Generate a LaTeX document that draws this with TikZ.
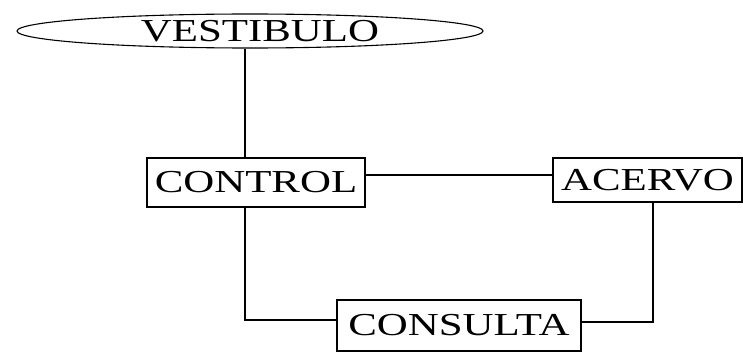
\documentclass[tikz,border=0pt]{standalone}
\usepackage{graphicx}
\usepackage{fontspec}
\setmainfont{Liberation Serif}
\usetikzlibrary{shapes.geometric}
\newcommand{\widetxt}[1]{\scalebox{1.34}[1]{#1}}
\begin{document}
\begin{tikzpicture}[x=1pt,y=-1pt, line width=1.1pt,
  box/.style={draw, rectangle, inner sep=0pt, font=\fontsize{32}{34}\selectfont},
  oval/.style={draw, ellipse, inner sep=0pt, font=\fontsize{32}{34}\selectfont}]
\useasboundingbox (0,0) rectangle (743,353);
\node[oval, minimum width=466pt, minimum height=34pt] (vest) at (250,31) {\hspace{20pt}\widetxt{VESTIBULO}};
\node[box, minimum width=218pt, minimum height=49pt] (ctl) at (256,182.5) {\widetxt{CONTROL}};
\node[box, minimum width=189pt, minimum height=44pt] (acv) at (647.5,180) {\widetxt{ACERVO}};
\node[box, minimum width=244pt, minimum height=51pt] (cons) at (459,325.5) {\widetxt{CONSULTA}};
\draw ([xshift=-5pt]vest.south) -- ([xshift=-5pt]vest.south |- ctl.north);
\draw ([yshift=7.5pt]ctl.east) -- ([yshift=7.5pt]ctl.east -| acv.west);
\draw ([xshift=-11pt]ctl.south) |- ([yshift=5.5pt]cons.west);
\draw ([xshift=5.5pt]acv.south) |- ([yshift=3.5pt]cons.east);
\end{tikzpicture}
\end{document}
